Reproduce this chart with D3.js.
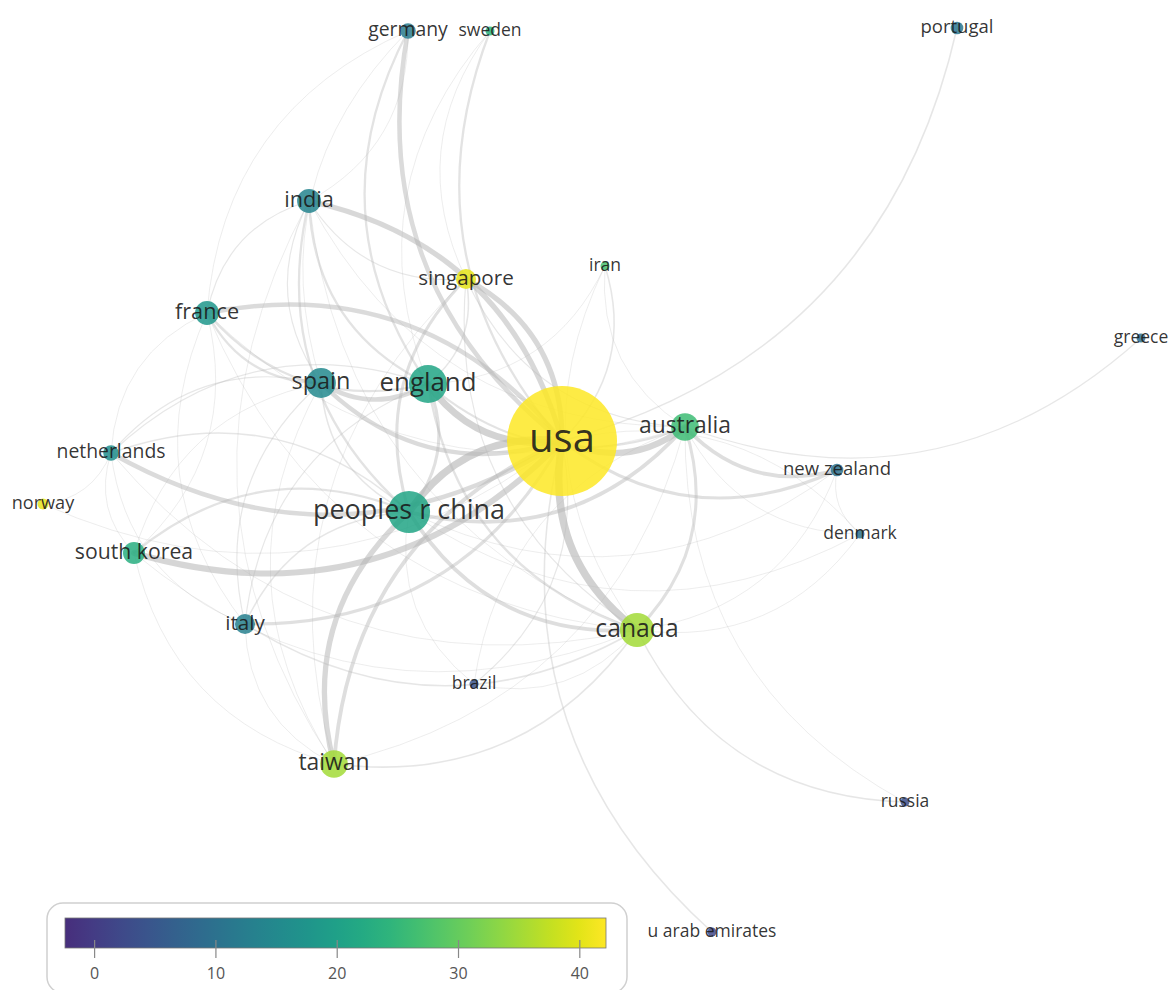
<!DOCTYPE html>
<html>
<head>
<meta charset="utf-8">
<script src="https://cdn.jsdelivr.net/npm/d3@7"></script>
<style>
  body { margin: 0; background: #fff; }
  svg { display: block; font-family: "Open Sans", sans-serif; }
</style>
</head>
<body>
<div id="map"></div>
<script>
// country co-authorship map (VOSviewer style overlay)

// node data: names, map coordinates, documents (weight), overlay score
var nodeNames = ["usa", "peoples r china", "england", "canada", "spain", "australia", "taiwan",
  "india", "france", "south korea", "italy", "singapore", "netherlands", "germany",
  "new zealand", "portugal", "norway", "sweden", "iran", "brazil", "denmark", "greece",
  "russia", "u arab emirates"];
var nodeX = [0.02, -1.51, -1.32, 0.77, -2.39, 1.25, -2.26,
  -2.51, -3.53, -4.26, -3.15, -0.94, -4.49, -1.52,
  2.77, 3.97, -5.17, -0.70, 0.45, -0.86, 3.00, 5.81,
  3.45, 1.52];
var nodeY = [0.39, -0.32, 0.96, -1.50, 0.97, 0.53, -2.84,
  2.79, 1.67, -0.73, -1.44, 2.01, 0.27, 4.49,
  0.10, 4.52, -0.24, 4.49, 2.14, -2.04, -0.54, 1.42,
  -3.22, -4.52];
var nodeWeight = [300, 44, 36, 29, 22, 19, 19,
  14, 14, 12, 10, 10, 6, 6,
  4, 4, 3, 2, 2, 2, 2, 2,
  2, 2];
var nodeScore = [42, 21, 21, 35, 15, 26, 35,
  14, 18, 23, 13, 40, 16, 12,
  10, 11, 40, 24, 27, 4, 10, 9,
  3, 2];

// links: source, target, link strength
var links = [
  ["usa", "peoples r china", 10], ["usa", "canada", 10], ["england", "usa", 9],
  ["usa", "australia", 8], ["south korea", "usa", 8], ["usa", "singapore", 7],
  ["usa", "india", 7], ["germany", "usa", 6], ["usa", "france", 6],
  ["netherlands", "usa", 6], ["spain", "usa", 6], ["spain", "england", 6],
  ["peoples r china", "taiwan", 7], ["usa", "taiwan", 5], ["australia", "new zealand", 5],
  ["peoples r china", "australia", 5], ["peoples r china", "canada", 5],
  ["peoples r china", "england", 4], ["singapore", "peoples r china", 4],
  ["peoples r china", "south korea", 3], ["italy", "usa", 4], ["canada", "australia", 4],
  ["england", "australia", 3], ["england", "canada", 3], ["usa", "new zealand", 4],
  ["sweden", "usa", 3], ["germany", "england", 3], ["india", "england", 3],
  ["india", "peoples r china", 3], ["france", "england", 3], ["france", "spain", 3],
  ["usa", "portugal", 2], ["usa", "u arab emirates", 2], ["canada", "russia", 2],
  ["australia", "greece", 1.5], ["usa", "iran", 2], ["iran", "australia", 1],
  ["taiwan", "canada", 2], ["italy", "canada", 2], ["brazil", "usa", 1.5],
  ["brazil", "canada", 1], ["peoples r china", "brazil", 1], ["denmark", "usa", 1],
  ["australia", "denmark", 1], ["norway", "usa", 1], ["norway", "netherlands", 1],
  ["india", "france", 1.5], ["india", "spain", 1.5], ["india", "germany", 1],
  ["india", "singapore", 1.5], ["spain", "netherlands", 1.5], ["south korea", "france", 1],
  ["france", "italy", 1], ["spain", "italy", 1.5], ["spain", "south korea", 1],
  ["spain", "peoples r china", 2], ["spain", "taiwan", 1], ["england", "netherlands", 1.5],
  ["england", "italy", 1.5], ["england", "singapore", 2], ["germany", "spain", 1],
  ["germany", "france", 1], ["sweden", "england", 1], ["sweden", "singapore", 1],
  ["singapore", "australia", 1.5], ["singapore", "canada", 1.5], ["singapore", "taiwan", 1],
  ["south korea", "canada", 1], ["south korea", "taiwan", 1], ["italy", "taiwan", 1],
  ["taiwan", "australia", 1], ["canada", "new zealand", 1], ["canada", "denmark", 1],
  ["netherlands", "italy", 1], ["netherlands", "canada", 1], ["netherlands", "south korea", 1],
  ["india", "canada", 1], ["india", "australia", 1], ["india", "taiwan", 1],
  ["france", "canada", 1], ["france", "australia", 1], ["australia", "brazil", 1],
  ["iran", "canada", 1], ["england", "iran", 1], ["peoples r china", "new zealand", 1],
  ["peoples r china", "denmark", 1], ["peoples r china", "italy", 2],
  ["peoples r china", "netherlands", 2], ["france", "netherlands", 1],
  ["new zealand", "denmark", 1], ["australia", "russia", 1]
];

// legend ticks
var legendTicks = [0, 10, 20, 30, 40];

var svgWidth = 1168;
var svgHeight = 990;

var svg = d3.select("#map")
  .append("svg")
  .attr("width", svgWidth)
  .attr("height", svgHeight);

// scales
var xScale = d3.scaleLinear().domain([-5.6, 6.08]).range([0, svgWidth]);
var yScale = d3.scaleLinear().domain([4.8, -5.1]).range([0, svgHeight]);
var rScale = d3.scaleSqrt().domain([0, 300]).range([0, 55]);
var fontScale = d3.scaleSqrt().domain([2, 44, 300]).range([17.5, 27, 40]);
var scoreMin = -2.4, scoreMax = 42.2;
// viridis without its darkest purple end
var palette = t => d3.interpolateViridis(0.13 + 0.87 * t);
var colorScale = d3.scaleSequential(palette).domain([scoreMin, scoreMax]);
var widthScale = d3.scaleLinear().domain([1, 10]).range([0.8, 7.5]);
var opacityScale = d3.scaleLinear().domain([1, 10]).range([0.3, 0.62]);

var nodes = nodeNames.map((name, i) => ({
  name: name,
  x: xScale(nodeX[i]),
  y: yScale(nodeY[i]),
  weight: nodeWeight[i],
  score: nodeScore[i]
}));
var byName = {};
nodes.forEach(n => byName[n.name] = n);

// curved links
function arc(d) {
  var s = byName[d[0]], t = byName[d[1]];
  var dx = t.x - s.x, dy = t.y - s.y;
  var k = 0.3;
  var cx = (s.x + t.x) / 2 - dy * k;
  var cy = (s.y + t.y) / 2 + dx * k;
  return `M${s.x},${s.y} Q${cx},${cy} ${t.x},${t.y}`;
}

var linkData = links.slice().sort((a, b) => a[2] - b[2]);

svg.append("g")
  .selectAll("path")
  .data(linkData)
  .join("path")
  .attr("d", arc)
  .attr("fill", "none")
  .attr("stroke", "#b4b4b4")
  .attr("stroke-opacity", d => opacityScale(d[2]))
  .attr("stroke-width", d => widthScale(d[2]))
  .attr("stroke-linecap", "round");

// nodes
svg.append("g")
  .selectAll("circle")
  .data(nodes)
  .join("circle")
  .attr("cx", d => d.x)
  .attr("cy", d => d.y)
  .attr("r", d => rScale(d.weight))
  .attr("fill", d => colorScale(d.score))
  .attr("fill-opacity", 0.85);

// labels
svg.append("g")
  .selectAll("text")
  .data(nodes)
  .join("text")
  .attr("x", d => d.x)
  .attr("y", d => d.y)
  .attr("dy", "0.27em")
  .attr("text-anchor", "middle")
  .attr("font-size", d => fontScale(d.weight))
  .attr("fill", "#1a1a1a")
  .attr("fill-opacity", 0.9)
  .text(d => d.name);

// colour legend
var legend = svg.append("g");
var legendScale = d3.scaleLinear().domain([scoreMin, scoreMax]).range([65, 606]);

var grad = svg.append("defs").append("linearGradient")
  .attr("id", "viridis")
  .attr("x1", "0%").attr("x2", "100%");
d3.range(0, 1.0001, 0.05).forEach(t => {
  grad.append("stop")
    .attr("offset", (t * 100) + "%")
    .attr("stop-color", palette(t));
});

legend.append("rect")
  .attr("x", 47).attr("y", 903)
  .attr("width", 580).attr("height", 90)
  .attr("rx", 16)
  .attr("fill", "#fff")
  .attr("stroke", "#d0d0d0")
  .attr("stroke-width", 1.5);

legend.append("rect")
  .attr("x", legendScale(scoreMin)).attr("y", 918)
  .attr("width", legendScale(scoreMax) - legendScale(scoreMin)).attr("height", 30)
  .attr("fill", "url(#viridis)")
  .attr("stroke", "#777")
  .attr("stroke-width", 0.8);

var axis = d3.axisBottom(legendScale)
  .tickValues(legendTicks)
  .tickSize(18)
  .tickPadding(10);

var axisG = legend.append("g")
  .attr("transform", "translate(0, 940)")
  .call(axis);
axisG.select(".domain").remove();
axisG.selectAll(".tick line").attr("stroke", "#888").attr("stroke-width", 1.2);
axisG.selectAll(".tick text")
  .attr("font-size", 16)
  .attr("font-family", "Open Sans, sans-serif")
  .attr("fill", "#555");
</script>
</body>
</html>
